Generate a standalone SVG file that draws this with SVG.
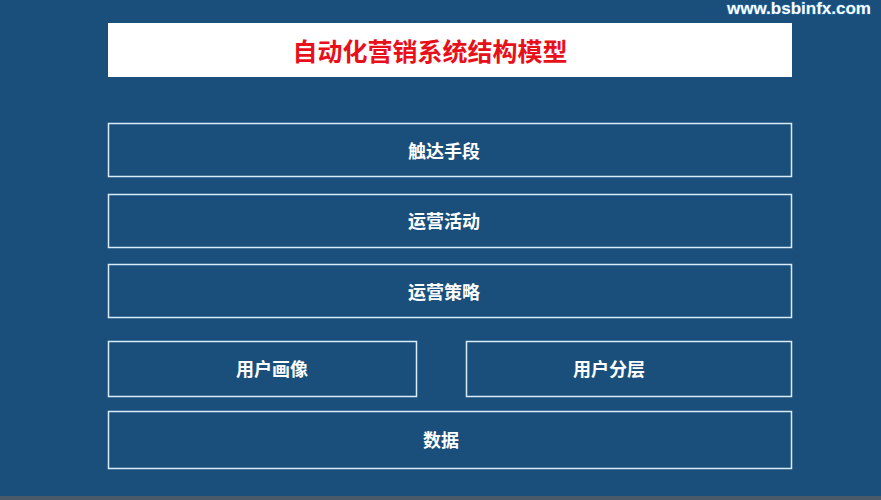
<svg xmlns="http://www.w3.org/2000/svg" width="881" height="500" viewBox="0 0 881 500">
<style>
.box{fill:none;stroke:#d8ecfb;stroke-width:1.5}
.lbl{font-family:"Noto Sans CJK SC","Noto Sans",sans-serif;font-weight:bold;font-size:18px;fill:#ffffff;text-anchor:middle;dominant-baseline:central}
</style>
<rect x="0" y="0" width="881" height="500" fill="#1b4f7b"/>
<rect x="0" y="496" width="881" height="4" fill="#4a5a68"/>
<text x="799" y="8" font-family="Liberation Sans,Arial,sans-serif" font-weight="bold" font-size="17" fill="#ffffff" stroke="#1f6fb0" stroke-width="1.2" paint-order="stroke" text-anchor="middle" dominant-baseline="central">www.bsbinfx.com</text>
<g id="title">
<rect x="108" y="23" width="684" height="54" fill="#ffffff"/>
<text x="430" y="50" font-family="Noto Sans CJK SC,sans-serif" font-weight="bold" font-size="25" fill="#e8101a" text-anchor="middle" dominant-baseline="central">自动化营销系统结构模型</text>
</g>
<g id="connectors"></g>
<g id="n1"><rect class="box" x="108.5" y="123.5" width="683" height="53"/><text class="lbl" x="444" y="150">触达手段</text></g>
<g id="n2"><rect class="box" x="108.5" y="194.5" width="683" height="53"/><text class="lbl" x="444" y="220">运营活动</text></g>
<g id="n3"><rect class="box" x="108.5" y="264.5" width="683" height="53"/><text class="lbl" x="444" y="291">运营策略</text></g>
<g id="n4"><rect class="box" x="108.5" y="341.5" width="308" height="55"/><text class="lbl" x="272" y="368">用户画像</text></g>
<g id="n5"><rect class="box" x="466.5" y="341.5" width="325" height="55"/><text class="lbl" x="609" y="368">用户分层</text></g>
<g id="n6"><rect class="box" x="108.5" y="411.5" width="683" height="57"/><text class="lbl" x="441" y="439">数据</text></g>
</svg>
